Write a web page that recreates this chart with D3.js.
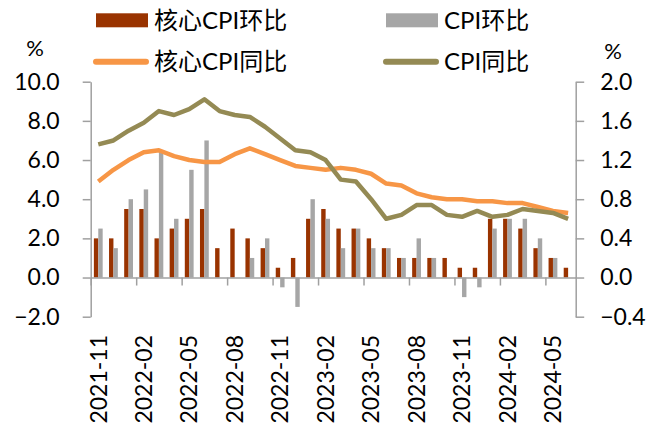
<!DOCTYPE html>
<html>
<head>
<meta charset="utf-8">
<script src="https://cdn.jsdelivr.net/npm/d3@7"></script>
<style>
  body { margin: 0; background: #fff; }
  svg { display: block; font-family: Lato, "Noto Sans CJK SC", sans-serif; }
</style>
</head>
<body>
<div id="root"></div>
<script>
const width = 659;
const height = 426;

// months 2021-11 .. 2024-06
const months = [
  "2021-11", "2021-12", "2022-01", "2022-02", "2022-03", "2022-04", "2022-05", "2022-06",
  "2022-07", "2022-08", "2022-09", "2022-10", "2022-11", "2022-12", "2023-01", "2023-02",
  "2023-03", "2023-04", "2023-05", "2023-06", "2023-07", "2023-08", "2023-09", "2023-10",
  "2023-11", "2023-12", "2024-01", "2024-02", "2024-03", "2024-04", "2024-05", "2024-06"
];
const labelMonths = ["2021-11", "2022-02", "2022-05", "2022-08", "2022-11", "2023-02",
  "2023-05", "2023-08", "2023-11", "2024-02", "2024-05"];

// bars, right axis
const coreMoM = [0.4, 0.4, 0.7, 0.7, 0.4, 0.5, 0.6, 0.7, 0.3, 0.5, 0.4, 0.3, 0.1, 0.2, 0.6, 0.7,
  0.5, 0.5, 0.4, 0.3, 0.2, 0.2, 0.2, 0.2, 0.1, 0.1, 0.6, 0.6, 0.5, 0.3, 0.2, 0.1];
const cpiMoM = [0.5, 0.3, 0.8, 0.9, 1.3, 0.6, 1.1, 1.4, 0, 0, 0.2, 0.4, -0.1, -0.3, 0.8, 0.6,
  0.3, 0.5, 0.3, 0.3, 0.2, 0.4, 0.2, 0, -0.2, -0.1, 0.5, 0.6, 0.6, 0.4, 0.2, 0];

// lines, left axis
const coreYoY = [4.9, 5.5, 6.0, 6.4, 6.5, 6.2, 6.0, 5.9, 5.9, 6.3, 6.6, 6.3, 6.0, 5.7, 5.6, 5.5,
  5.6, 5.5, 5.3, 4.8, 4.7, 4.3, 4.1, 4.0, 4.0, 3.9, 3.9, 3.8, 3.8, 3.6, 3.4, 3.3];
const cpiYoY = [6.8, 7.0, 7.5, 7.9, 8.5, 8.3, 8.6, 9.1, 8.5, 8.3, 8.2, 7.7, 7.1, 6.5, 6.4, 6.0,
  5.0, 4.9, 4.0, 3.0, 3.2, 3.7, 3.7, 3.2, 3.1, 3.4, 3.1, 3.2, 3.5, 3.4, 3.3, 3.0];

const leftTicks = [-2, 0, 2, 4, 6, 8, 10];
const rightTicks = [-0.4, 0, 0.4, 0.8, 1.2, 1.6, 2.0];

const colors = { core: "#993300", cpi: "#a6a6a6", coreY: "#f79646", cpiY: "#948a54" };
const axisColor = "#a0a0a0";

const plot = { left: 90.7, right: 575.7, top: 81.7, bottom: 316.7 };

const svg = d3.select("#root").append("svg")
  .attr("width", width).attr("height", height);

svg.append("rect").attr("width", width).attr("height", height).attr("fill", "#fff");

const x = d3.scaleBand().domain(months).range([plot.left, plot.right]);
const xi = d3.scaleLinear().domain([0, months.length]).range([plot.left, plot.right]);
const x1 = d3.scaleBand().domain(["core", "cpi"]).range([0, x.bandwidth()]).paddingOuter(0.72);
const yL = d3.scaleLinear().domain([-2, 10]).range([plot.bottom, plot.top]);
const yR = d3.scaleLinear().domain([-0.4, 2.0]).range([plot.bottom, plot.top]);

// bars
const barData = months.map((m, i) => ({ m, core: coreMoM[i], cpi: cpiMoM[i] }));
const groups = svg.append("g").selectAll("g").data(barData).join("g")
  .attr("transform", (d) => `translate(${x(d.m)},0)`);
groups.selectAll("rect")
  .data((d) => ["core", "cpi"].map((k) => ({ k, v: d[k] })))
  .join("rect")
  .attr("x", (d) => x1(d.k))
  .attr("width", x1.bandwidth())
  .attr("y", (d) => yR(Math.max(0, d.v)))
  .attr("height", (d) => Math.abs(yR(d.v) - yR(0)))
  .attr("fill", (d) => colors[d.k]);

// category axis on the zero line
const xAxis = svg.append("g")
  .attr("transform", `translate(0,${yL(0)})`)
  .call(d3.axisBottom(xi).tickValues(d3.range(0, months.length, 3)).tickSize(8).tickSizeOuter(0).tickFormat(""));
xAxis.select(".domain").attr("stroke", axisColor).attr("stroke-width", 1.5);
xAxis.selectAll(".tick line").attr("stroke", axisColor).attr("stroke-width", 1.5);

// month labels
const xLab = svg.append("g")
  .attr("transform", "translate(0,335)")
  .call(d3.axisBottom(x).tickValues(labelMonths).tickSize(0));
xLab.select(".domain").remove();
xLab.selectAll("text")
  .attr("transform", "rotate(-90)")
  .attr("x", 0).attr("y", 0).attr("dy", "0.36em")
  .style("text-anchor", "end")
  .attr("font-size", 23).attr("font-family", "Lato, sans-serif").attr("fill", "#000");

// left axis
const yAxisL = svg.append("g")
  .attr("transform", `translate(${plot.left},0)`)
  .call(d3.axisLeft(yL).tickValues(leftTicks).tickFormat(d3.format(".1f")).tickSize(8).tickSizeOuter(0).tickPadding(23));
// right axis
const yAxisR = svg.append("g")
  .attr("transform", `translate(${plot.right},0)`)
  .call(d3.axisRight(yR).tickValues(rightTicks).tickFormat(d3.format(".1f")).tickSize(8.5).tickSizeOuter(0).tickPadding(16));

[yAxisL, yAxisR].forEach((a) => {
  a.select(".domain").attr("stroke", axisColor).attr("stroke-width", 1.5);
  a.selectAll(".tick line").attr("stroke", axisColor).attr("stroke-width", 1.5);
  a.selectAll("text").attr("font-size", 23).attr("font-family", "Lato, sans-serif").attr("fill", "#000");
});

svg.append("text").attr("x", 35).attr("y", 48).attr("dy", "0.35em")
  .attr("text-anchor", "middle").attr("font-size", 22).text("%");
svg.append("text").attr("x", 613).attr("y", 51).attr("dy", "0.35em")
  .attr("text-anchor", "middle").attr("font-size", 22).text("%");

// lines
const line = d3.line()
  .x((d, i) => x(months[i]) + x.bandwidth() / 2)
  .y((d) => yL(d));

svg.append("path").datum(coreYoY)
  .attr("fill", "none").attr("stroke", colors.coreY).attr("stroke-width", 4.5)
  .attr("stroke-linejoin", "round").attr("d", line);
svg.append("path").datum(cpiYoY)
  .attr("fill", "none").attr("stroke", colors.cpiY).attr("stroke-width", 4.5)
  .attr("stroke-linejoin", "round").attr("d", line);

// legend
const legend = svg.append("g").attr("font-size", 24).attr("fill", "#000");
const legendItems = [
  { name: "核心CPI环比", type: "bar", color: colors.core, x: 96, y: 20.3 },
  { name: "CPI环比", type: "bar", color: colors.cpi, x: 386, y: 20.3 },
  { name: "核心CPI同比", type: "line", color: colors.coreY, x: 96, y: 61.7 },
  { name: "CPI同比", type: "line", color: colors.cpiY, x: 386, y: 61.7 }
];
legendItems.forEach((d) => {
  if (d.type === "bar") {
    legend.append("rect").attr("x", d.x).attr("y", d.y - 7).attr("width", 52).attr("height", 14).attr("fill", d.color);
  } else {
    legend.append("line").attr("x1", d.x).attr("x2", d.x + 50).attr("y1", d.y).attr("y2", d.y)
      .attr("stroke", d.color).attr("stroke-width", 6).attr("stroke-linecap", "round");
  }
  legend.append("text").attr("x", d.x + 58).attr("y", d.y).attr("dy", "0.36em").text(d.name);
});
</script>
</body>
</html>
